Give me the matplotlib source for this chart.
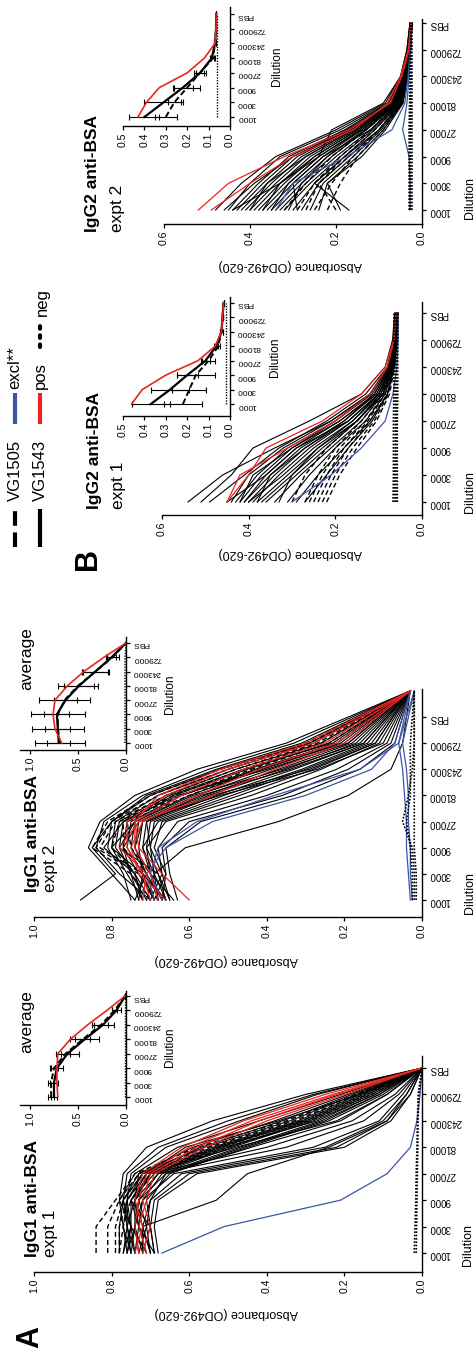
import matplotlib
matplotlib.use("Agg")
import matplotlib.pyplot as plt
from matplotlib.ticker import FormatStrFormatter

plt.rcParams['font.family'] = ['Liberation Sans', 'DejaVu Sans']

W, H = 474, 1357
RED = "#e8251f"
BLUE = "#3a56a6"

dilutions = ["1000", "3000", "9000", "27000", "81000", "243000", "729000", "PBS"]
pos = [0, 1, 2, 3, 4, 5, 6, 7]
pos_a2 = [0, 1, 2, 3, 4, 5, 6, 8]   # expt 2 IgG1: PBS point drawn one step further

# ---------------- IgG1 expt 1 ----------------
a1_vg1505 = [
    [0.84, 0.84, 0.79, 0.74, 0.58, 0.35, 0.17, 0.0],
    [0.81, 0.81, 0.78, 0.73, 0.55, 0.33, 0.16, 0.0],
    [0.79, 0.79, 0.77, 0.72, 0.53, 0.31, 0.15, 0.0],
    [0.78, 0.78, 0.76, 0.71, 0.52, 0.30, 0.14, 0.0],
    [0.78, 0.77, 0.75, 0.70, 0.50, 0.29, 0.13, 0.0],
]
a1_vg1543 = [
    [0.76, 0.77, 0.78, 0.77, 0.71, 0.54, 0.30, 0.0],
    [0.75, 0.76, 0.77, 0.76, 0.68, 0.50, 0.28, 0.0],
    [0.74, 0.75, 0.76, 0.75, 0.66, 0.47, 0.27, 0.0],
    [0.78, 0.78, 0.77, 0.73, 0.56, 0.34, 0.17, 0.0],
    [0.77, 0.76, 0.76, 0.72, 0.54, 0.32, 0.16, 0.0],
    [0.76, 0.75, 0.75, 0.71, 0.53, 0.31, 0.15, 0.0],
    [0.75, 0.74, 0.74, 0.70, 0.52, 0.30, 0.14, 0.0],
    [0.74, 0.73, 0.75, 0.69, 0.50, 0.29, 0.13, 0.0],
    [0.73, 0.74, 0.73, 0.68, 0.49, 0.28, 0.12, 0.0],
    [0.72, 0.72, 0.74, 0.70, 0.51, 0.27, 0.12, 0.0],
    [0.71, 0.73, 0.72, 0.67, 0.47, 0.26, 0.11, 0.0],
    [0.70, 0.71, 0.73, 0.66, 0.46, 0.25, 0.11, 0.0],
    [0.69, 0.70, 0.71, 0.65, 0.45, 0.24, 0.10, 0.0],
    [0.75, 0.77, 0.76, 0.71, 0.48, 0.22, 0.09, 0.0],
    [0.73, 0.71, 0.70, 0.66, 0.44, 0.21, 0.09, 0.0],
    [0.72, 0.74, 0.72, 0.64, 0.28, 0.11, 0.05, 0.0],
    [0.70, 0.72, 0.70, 0.62, 0.25, 0.10, 0.04, 0.0],
    [0.69, 0.70, 0.69, 0.60, 0.22, 0.09, 0.04, 0.0],
    [0.68, 0.69, 0.68, 0.58, 0.20, 0.08, 0.03, 0.0],
    [0.70, 0.72, 0.53, 0.45, 0.24, 0.09, 0.03, 0.0],
    [0.77, 0.75, 0.78, 0.74, 0.63, 0.42, 0.21, 0.0],
    [0.74, 0.76, 0.74, 0.73, 0.59, 0.38, 0.19, 0.0],
    [0.71, 0.75, 0.77, 0.72, 0.57, 0.36, 0.18, 0.0],
    [0.72, 0.70, 0.75, 0.70, 0.40, 0.18, 0.07, 0.0],
    [0.76, 0.74, 0.73, 0.71, 0.61, 0.37, 0.16, 0.0],
    [0.69, 0.73, 0.74, 0.68, 0.35, 0.15, 0.06, 0.0],
]
a1_pos = [
    [0.74, 0.72, 0.74, 0.72, 0.62, 0.46, 0.25, 0.0],
    [0.73, 0.74, 0.73, 0.71, 0.60, 0.44, 0.23, 0.0],
    [0.72, 0.70, 0.72, 0.70, 0.58, 0.42, 0.22, 0.0],
    [0.71, 0.73, 0.71, 0.69, 0.56, 0.40, 0.20, 0.0],
]
a1_excl = [
    [0.67, 0.51, 0.21, 0.09, 0.03, 0.013, 0.005, 0.0],
]
a1_neg = [
    [0.020, 0.018, 0.016, 0.015, 0.013, 0.012, 0.010, 0.0],
    [0.015, 0.014, 0.013, 0.012, 0.011, 0.010, 0.008, 0.0],
]
a1_avg_pos = [0.71, 0.72, 0.72, 0.71, 0.58, 0.40, 0.20, 0.01]
a1_avg_vg1543 = [0.75, 0.75, 0.72, 0.61, 0.43, 0.24, 0.10, 0.01]
a1_err_vg1543 = [0.03, 0.04, 0.06, 0.12, 0.15, 0.11, 0.05, 0.0]
a1_avg_vg1505 = [0.78, 0.78, 0.75, 0.63, 0.45, 0.26, 0.12, 0.01]
a1_err_vg1505 = [0.03, 0.03, 0.04, 0.05, 0.08, 0.07, 0.03, 0.0]
a1_avg_neg = [0.01, 0.01, 0.01, 0.01, 0.01, 0.01, 0.01, 0.01]

# ---------------- IgG1 expt 2 ----------------
a2_vg1505 = [
    [0.70, 0.75, 0.85, 0.81, 0.70, 0.52, 0.30, 0.03],
    [0.68, 0.73, 0.84, 0.80, 0.68, 0.50, 0.29, 0.03],
    [0.66, 0.72, 0.83, 0.79, 0.66, 0.48, 0.27, 0.03],
    [0.72, 0.74, 0.80, 0.78, 0.64, 0.46, 0.26, 0.03],
    [0.69, 0.71, 0.77, 0.77, 0.62, 0.44, 0.24, 0.03],
    [0.67, 0.70, 0.75, 0.76, 0.60, 0.42, 0.22, 0.03],
]
a2_vg1543 = [
    [0.74, 0.80, 0.86, 0.83, 0.74, 0.58, 0.35, 0.03],
    [0.70, 0.78, 0.84, 0.82, 0.72, 0.55, 0.33, 0.03],
    [0.88, 0.79, 0.85, 0.80, 0.71, 0.53, 0.31, 0.03],
    [0.72, 0.76, 0.80, 0.79, 0.68, 0.50, 0.28, 0.03],
    [0.70, 0.74, 0.79, 0.78, 0.66, 0.48, 0.26, 0.03],
    [0.69, 0.73, 0.77, 0.76, 0.64, 0.45, 0.24, 0.03],
    [0.73, 0.72, 0.76, 0.75, 0.62, 0.43, 0.22, 0.03],
    [0.67, 0.71, 0.75, 0.74, 0.60, 0.41, 0.21, 0.03],
    [0.68, 0.70, 0.74, 0.73, 0.58, 0.39, 0.19, 0.03],
    [0.66, 0.72, 0.73, 0.72, 0.56, 0.37, 0.18, 0.03],
    [0.71, 0.69, 0.72, 0.71, 0.55, 0.35, 0.17, 0.03],
    [0.65, 0.68, 0.71, 0.70, 0.53, 0.33, 0.15, 0.03],
    [0.70, 0.67, 0.70, 0.69, 0.51, 0.31, 0.14, 0.03],
    [0.64, 0.70, 0.72, 0.68, 0.49, 0.30, 0.13, 0.03],
    [0.69, 0.66, 0.69, 0.67, 0.47, 0.28, 0.12, 0.03],
    [0.66, 0.68, 0.78, 0.74, 0.62, 0.42, 0.20, 0.03],
    [0.72, 0.74, 0.82, 0.77, 0.65, 0.46, 0.23, 0.03],
    [0.68, 0.70, 0.71, 0.66, 0.44, 0.26, 0.11, 0.03],
    [0.65, 0.67, 0.68, 0.63, 0.40, 0.22, 0.09, 0.03],
    [0.67, 0.66, 0.67, 0.60, 0.36, 0.19, 0.08, 0.03],
    [0.63, 0.65, 0.66, 0.57, 0.33, 0.16, 0.07, 0.03],
    [0.68, 0.69, 0.61, 0.37, 0.19, 0.08, 0.05, 0.03],
    [0.75, 0.77, 0.81, 0.80, 0.70, 0.52, 0.29, 0.03],
    [0.71, 0.75, 0.78, 0.77, 0.63, 0.40, 0.19, 0.03],
    [0.69, 0.72, 0.80, 0.74, 0.59, 0.36, 0.16, 0.03],
    [0.74, 0.71, 0.74, 0.72, 0.57, 0.34, 0.15, 0.03],
    [0.66, 0.69, 0.70, 0.71, 0.54, 0.29, 0.12, 0.03],
    [0.73, 0.75, 0.77, 0.73, 0.52, 0.27, 0.10, 0.03],
]
a2_pos = [
    [0.60, 0.67, 0.73, 0.74, 0.68, 0.52, 0.30, 0.03],
    [0.70, 0.72, 0.76, 0.76, 0.66, 0.50, 0.28, 0.03],
    [0.68, 0.70, 0.74, 0.74, 0.62, 0.46, 0.25, 0.03],
    [0.66, 0.73, 0.75, 0.72, 0.58, 0.42, 0.22, 0.03],
    [0.72, 0.71, 0.78, 0.73, 0.54, 0.38, 0.20, 0.03],
]
a2_excl = [
    [0.69, 0.71, 0.66, 0.54, 0.30, 0.13, 0.07, 0.03],
    [0.67, 0.70, 0.68, 0.58, 0.38, 0.16, 0.06, 0.03],
    [0.030, 0.035, 0.040, 0.040, 0.045, 0.050, 0.060, 0.02],
    [0.025, 0.030, 0.030, 0.035, 0.035, 0.040, 0.050, 0.02],
]
a2_neg = [
    [0.025, 0.025, 0.030, 0.040, 0.030, 0.030, 0.030, 0.02],
    [0.020, 0.020, 0.025, 0.050, 0.035, 0.025, 0.020, 0.02],
    [0.015, 0.015, 0.020, 0.020, 0.020, 0.020, 0.020, 0.02],
]
a2_avg_pos = [0.67, 0.74, 0.76, 0.74, 0.61, 0.44, 0.23, 0.0]
a2_avg_vg1543 = [0.70, 0.71, 0.72, 0.63, 0.49, 0.32, 0.15, 0.0]
a2_err_vg1543 = [0.12, 0.13, 0.13, 0.12, 0.16, 0.14, 0.05, 0.0]
a2_avg_vg1505 = [0.69, 0.71, 0.71, 0.64, 0.50, 0.32, 0.14, 0.0]
a2_err_vg1505 = [0.26, 0.27, 0.28, 0.27, 0.21, 0.13, 0.07, 0.0]
a2_avg_neg = [0.01, 0.01, 0.01, 0.01, 0.01, 0.01, 0.01, 0.0]

# ---------------- IgG2 expt 1 ----------------
b1_vg1505 = [
    [0.30, 0.27, 0.22, 0.15, 0.095, 0.069, 0.060, 0.058],
    [0.27, 0.24, 0.20, 0.14, 0.090, 0.068, 0.059, 0.058],
    [0.26, 0.23, 0.19, 0.13, 0.088, 0.067, 0.059, 0.057],
    [0.25, 0.22, 0.18, 0.125, 0.085, 0.066, 0.058, 0.057],
    [0.24, 0.21, 0.17, 0.12, 0.080, 0.065, 0.058, 0.056],
    [0.23, 0.20, 0.16, 0.11, 0.078, 0.064, 0.057, 0.056],
    [0.22, 0.19, 0.15, 0.105, 0.075, 0.063, 0.057, 0.055],
]
b1_vg1543 = [
    [0.54, 0.46, 0.34, 0.21, 0.12, 0.080, 0.065, 0.062],
    [0.51, 0.44, 0.39, 0.26, 0.14, 0.085, 0.068, 0.063],
    [0.49, 0.41, 0.33, 0.22, 0.13, 0.080, 0.066, 0.062],
    [0.44, 0.40, 0.32, 0.21, 0.12, 0.078, 0.064, 0.060],
    [0.43, 0.38, 0.31, 0.20, 0.115, 0.076, 0.063, 0.060],
    [0.42, 0.37, 0.30, 0.19, 0.11, 0.075, 0.062, 0.060],
    [0.41, 0.35, 0.28, 0.18, 0.11, 0.074, 0.062, 0.059],
    [0.40, 0.34, 0.27, 0.18, 0.105, 0.072, 0.061, 0.059],
    [0.39, 0.33, 0.26, 0.17, 0.10, 0.071, 0.061, 0.058],
    [0.40, 0.32, 0.25, 0.16, 0.10, 0.070, 0.060, 0.058],
    [0.38, 0.31, 0.24, 0.16, 0.095, 0.070, 0.060, 0.057],
    [0.37, 0.30, 0.23, 0.15, 0.095, 0.069, 0.060, 0.057],
    [0.36, 0.29, 0.22, 0.15, 0.090, 0.068, 0.059, 0.057],
    [0.34, 0.28, 0.21, 0.14, 0.090, 0.067, 0.059, 0.056],
    [0.31, 0.26, 0.20, 0.13, 0.085, 0.066, 0.058, 0.056],
    [0.29, 0.24, 0.18, 0.12, 0.080, 0.065, 0.058, 0.056],
    [0.27, 0.22, 0.17, 0.115, 0.080, 0.064, 0.057, 0.055],
    [0.45, 0.36, 0.29, 0.19, 0.105, 0.073, 0.062, 0.059],
    [0.42, 0.39, 0.30, 0.20, 0.12, 0.078, 0.064, 0.060],
    [0.41, 0.36, 0.29, 0.17, 0.10, 0.071, 0.061, 0.058],
    [0.38, 0.35, 0.27, 0.17, 0.10, 0.070, 0.060, 0.058],
    [0.33, 0.30, 0.24, 0.15, 0.09, 0.068, 0.059, 0.057],
]
b1_pos = [
    [0.45, 0.40, 0.36, 0.23, 0.14, 0.085, 0.065, 0.060],
    [0.45, 0.42, 0.31, 0.20, 0.12, 0.080, 0.064, 0.060],
]
b1_excl = [
    [0.30, 0.21, 0.14, 0.085, 0.067, 0.058, 0.055, 0.055],
]
b1_neg = [
    [0.067, 0.066, 0.066, 0.066, 0.065, 0.065, 0.065, 0.065],
    [0.063, 0.063, 0.062, 0.062, 0.062, 0.062, 0.062, 0.062],
    [0.060, 0.060, 0.060, 0.059, 0.059, 0.059, 0.059, 0.059],
    [0.057, 0.057, 0.057, 0.057, 0.056, 0.056, 0.056, 0.056],
]
b1_avg_pos = [0.46, 0.41, 0.30, 0.15, 0.07, 0.04, 0.035, 0.03]
b1_avg_vg1543 = [0.37, 0.28, 0.20, 0.115, 0.065, 0.04, 0.035, 0.03]
b1_err_vg1543 = [0.09, 0.09, 0.05, 0.02, 0.01, 0.005, 0.0, 0.0]
b1_avg_vg1505 = [0.22, 0.19, 0.16, 0.10, 0.055, 0.04, 0.035, 0.03]
b1_err_vg1505 = [0.09, 0.08, 0.09, 0.03, 0.01, 0.005, 0.0, 0.0]
b1_avg_neg = [0.02, 0.02, 0.02, 0.02, 0.02, 0.02, 0.02, 0.02]

# ---------------- IgG2 expt 2 ----------------
b2_vg1505 = [
    [0.32, 0.27, 0.21, 0.13, 0.060, 0.040, 0.030, 0.025],
    [0.29, 0.25, 0.19, 0.12, 0.055, 0.038, 0.029, 0.025],
    [0.27, 0.24, 0.18, 0.11, 0.052, 0.037, 0.029, 0.024],
    [0.25, 0.21, 0.16, 0.10, 0.050, 0.036, 0.028, 0.024],
    [0.22, 0.19, 0.15, 0.09, 0.047, 0.035, 0.028, 0.024],
    [0.20, 0.24, 0.17, 0.10, 0.050, 0.035, 0.028, 0.024],
]
b2_vg1543 = [
    [0.48, 0.42, 0.34, 0.20, 0.085, 0.050, 0.035, 0.028],
    [0.45, 0.40, 0.33, 0.19, 0.080, 0.048, 0.034, 0.028],
    [0.44, 0.38, 0.31, 0.18, 0.078, 0.047, 0.033, 0.027],
    [0.43, 0.37, 0.30, 0.175, 0.075, 0.046, 0.033, 0.027],
    [0.42, 0.36, 0.29, 0.17, 0.073, 0.045, 0.032, 0.027],
    [0.41, 0.35, 0.28, 0.165, 0.070, 0.044, 0.032, 0.026],
    [0.40, 0.34, 0.27, 0.16, 0.068, 0.043, 0.031, 0.026],
    [0.39, 0.33, 0.26, 0.155, 0.066, 0.042, 0.031, 0.026],
    [0.38, 0.32, 0.25, 0.15, 0.064, 0.041, 0.030, 0.025],
    [0.37, 0.31, 0.24, 0.145, 0.062, 0.040, 0.030, 0.025],
    [0.36, 0.30, 0.23, 0.14, 0.060, 0.040, 0.030, 0.025],
    [0.35, 0.29, 0.22, 0.135, 0.058, 0.039, 0.029, 0.025],
    [0.34, 0.28, 0.21, 0.13, 0.056, 0.038, 0.029, 0.024],
    [0.33, 0.27, 0.20, 0.12, 0.054, 0.037, 0.028, 0.024],
    [0.32, 0.26, 0.19, 0.115, 0.052, 0.036, 0.028, 0.024],
    [0.30, 0.25, 0.18, 0.11, 0.050, 0.036, 0.028, 0.024],
    [0.28, 0.24, 0.17, 0.10, 0.048, 0.035, 0.027, 0.023],
    [0.26, 0.23, 0.16, 0.095, 0.046, 0.034, 0.027, 0.023],
    [0.24, 0.22, 0.15, 0.09, 0.045, 0.034, 0.027, 0.023],
    [0.17, 0.25, 0.18, 0.10, 0.050, 0.035, 0.028, 0.024],
    [0.19, 0.22, 0.14, 0.085, 0.044, 0.033, 0.026, 0.023],
    [0.44, 0.33, 0.24, 0.21, 0.090, 0.050, 0.035, 0.028],
    [0.46, 0.39, 0.30, 0.17, 0.070, 0.045, 0.033, 0.027],
    [0.40, 0.36, 0.27, 0.16, 0.066, 0.043, 0.031, 0.026],
    [0.37, 0.33, 0.25, 0.15, 0.062, 0.041, 0.030, 0.025],
    [0.35, 0.31, 0.24, 0.14, 0.060, 0.040, 0.030, 0.025],
    [0.31, 0.28, 0.22, 0.13, 0.057, 0.038, 0.029, 0.024],
    [0.29, 0.30, 0.23, 0.12, 0.055, 0.037, 0.028, 0.024],
]
b2_pos = [
    [0.52, 0.45, 0.32, 0.17, 0.074, 0.047, 0.030, 0.025],
    [0.49, 0.40, 0.30, 0.16, 0.080, 0.050, 0.032, 0.026],
]
b2_excl = [
    [0.34, 0.30, 0.175, 0.07, 0.040, 0.032, 0.028, 0.025],
    [0.028, 0.028, 0.030, 0.045, 0.035, 0.030, 0.027, 0.025],
]
b2_neg = [
    [0.030, 0.030, 0.030, 0.030, 0.029, 0.028, 0.027, 0.026],
    [0.028, 0.028, 0.028, 0.028, 0.027, 0.027, 0.026, 0.025],
    [0.026, 0.026, 0.026, 0.026, 0.026, 0.025, 0.025, 0.025],
    [0.024, 0.024, 0.024, 0.024, 0.024, 0.024, 0.024, 0.024],
]
b2_avg_pos = [0.43, 0.39, 0.33, 0.20, 0.12, 0.07, 0.065, 0.065]
b2_avg_vg1543 = [0.40, 0.31, 0.22, 0.14, 0.085, 0.07, 0.065, 0.065]
b2_err_vg1543 = [0.07, 0.09, 0.045, 0.03, 0.01, 0.005, 0.0, 0.0]
b2_avg_vg1505 = [0.30, 0.26, 0.20, 0.14, 0.08, 0.07, 0.065, 0.065]
b2_err_vg1505 = [0.05, 0.03, 0.06, 0.02, 0.01, 0.005, 0.0, 0.0]
b2_avg_neg = [0.06, 0.06, 0.06, 0.06, 0.06, 0.06, 0.06, 0.06]


fig = plt.figure(figsize=(W / 100, H / 100), dpi=100)


def px_axes(x_hi, x_zero, y_bot, y_top, p0, p7, xmax, xticks, inset=False):
    # axes placed in pixel coords of the (rotated) page; x = absorbance, y = dilution
    ax = fig.add_axes([x_hi / W, 1 - y_bot / H, (x_zero - x_hi) / W, (y_bot - y_top) / H])
    ax.set_xlim(xmax, 0)
    d = (p0 - p7) / 7
    ax.set_ylim(-(y_bot - p0) / d, 7 + (p7 - y_top) / d)
    ax.patch.set_visible(False)
    for s in ["left", "top"]:
        ax.spines[s].set_visible(False)
    for s in ["bottom", "right"]:
        ax.spines[s].set_linewidth(1.0)
    ax.set_xticks(xticks)
    ax.xaxis.set_major_formatter(FormatStrFormatter("%.1f"))
    ax.set_yticks(pos)
    ax.set_yticklabels(dilutions)
    ax.yaxis.tick_right()
    ax.tick_params(axis="y", labelrotation=180, labelsize=6 if inset else 7,
                   length=3, width=0.9, pad=2)
    ax.tick_params(axis="x", labelrotation=90, labelsize=7.5, length=3, width=0.9, pad=2)
    return ax


def draw_groups(ax, x, dashed, solid, excl, pos_lines, neg):
    for v in dashed:
        ax.plot(v, x, color="black", lw=1.0, ls=(0, (3.6, 2.2)), clip_on=False)
    for v in solid:
        ax.plot(v, x, color="black", lw=0.8, clip_on=False)
    for v in excl:
        ax.plot(v, x, color=BLUE, lw=0.9, clip_on=False)
    for v in pos_lines:
        ax.plot(v, x, color=RED, lw=0.9, clip_on=False)
    for v in neg:
        ax.plot(v, x, color="black", lw=1.2, ls=(0, (1, 1)), clip_on=False)


def draw_avg(ax, p, s, se, d, de, n):
    ax.plot(n, pos, color="black", lw=1.0, ls=(0, (1, 1)), clip_on=False)
    ax.errorbar(s, pos, xerr=se, fmt="none", ecolor="black", elinewidth=0.8, capsize=2, capthick=0.8)
    ax.errorbar(d, pos, xerr=de, fmt="none", ecolor="black", elinewidth=0.8, capsize=2, capthick=0.8)
    ax.plot(d, pos, color="black", lw=1.4, ls=(0, (3, 1.6)), clip_on=False)
    ax.plot(s, pos, color="black", lw=1.6, clip_on=False)
    ax.plot(p, pos, color=RED, lw=1.2, clip_on=False)


A_ticks = [0.0, 0.2, 0.4, 0.6, 0.8, 1.0]
B_ticks = [0.0, 0.2, 0.4, 0.6]

ax_a1 = px_axes(34, 422, 1272, 1056, 1253, 1068, 1.0, A_ticks)
draw_groups(ax_a1, pos, a1_vg1505, a1_vg1543, a1_excl, a1_pos, a1_neg)

ax_a2 = px_axes(34, 422, 917, 689, 900, 717, 1.0, A_ticks)
draw_groups(ax_a2, pos_a2, a2_vg1505, a2_vg1543, a2_excl, a2_pos, a2_neg)

ax_b1 = px_axes(162, 422, 515, 302, 502, 313, 0.6, B_ticks)
draw_groups(ax_b1, pos, b1_vg1505, b1_vg1543, b1_excl, b1_pos, b1_neg)

ax_b2 = px_axes(164, 422, 224, 19, 210, 23, 0.6, B_ticks)
draw_groups(ax_b2, pos, b2_vg1505, b2_vg1543, b2_excl, b2_pos, b2_neg)

in_a1 = px_axes(20.4, 126, 1105, 991, 1097, 996, 1.1, [0.0, 0.5, 1.0], inset=True)
draw_avg(in_a1, a1_avg_pos, a1_avg_vg1543, a1_err_vg1543, a1_avg_vg1505, a1_err_vg1505, a1_avg_neg)

in_a2 = px_axes(20.4, 126, 750, 637, 743, 643, 1.1, [0.0, 0.5, 1.0], inset=True)
draw_avg(in_a2, a2_avg_pos, a2_avg_vg1543, a2_err_vg1543, a2_avg_vg1505, a2_err_vg1505, a2_avg_neg)

in_b1 = px_axes(123, 230, 416, 297, 404, 303, 0.5, [0.0, 0.1, 0.2, 0.3, 0.4, 0.5], inset=True)
draw_avg(in_b1, b1_avg_pos, b1_avg_vg1543, b1_err_vg1543, b1_avg_vg1505, b1_err_vg1505, b1_avg_neg)

in_b2 = px_axes(123, 230, 126, 7, 117, 14, 0.5, [0.0, 0.1, 0.2, 0.3, 0.4, 0.5], inset=True)
draw_avg(in_b2, b2_avg_pos, b2_avg_vg1543, b2_err_vg1543, b2_avg_vg1505, b2_err_vg1505, b2_avg_neg)

# overlay for free text and legend, in page pixels
lax = fig.add_axes([0, 0, 1, 1])
lax.set_xlim(0, W)
lax.set_ylim(H, 0)
lax.axis("off")

# titles
for x1, x2, y0, t1, t2 in [(33, 51, 1257, "IgG1 anti-BSA", "expt 1"),
                           (33, 51, 892, "IgG1 anti-BSA", "expt 2"),
                           (95, 119, 509, "IgG2 anti-BSA", "expt 1"),
                           (93, 118, 232, "IgG2 anti-BSA", "expt 2")]:
    lax.text(x1, y0, t1, rotation=90, ha="center", va="bottom", fontsize=12.5, fontweight="bold")
    lax.text(x2, y0, t2, rotation=90, ha="center", va="bottom", fontsize=12.5)

lax.text(27, 1053, "average", rotation=90, ha="center", va="bottom", fontsize=12.5)
lax.text(27, 690, "average", rotation=90, ha="center", va="bottom", fontsize=12.5)

# axis titles
for x, y in [(226, 1313), (226, 960), (290, 553), (290, 265)]:
    lax.text(x, y, "Absorbance (OD492-620)", rotation=180, ha="center", va="center", fontsize=9)
for x, y in [(468, 1245), (470, 893), (470, 492), (470, 198)]:
    lax.text(x, y, "Dilution", rotation=90, ha="center", va="center", fontsize=9)
for x, y in [(170, 1047), (170, 694), (275, 357), (277, 66)]:
    lax.text(x, y, "Dilution", rotation=90, ha="center", va="center", fontsize=8.5)

# panel letters
lax.text(30, 1337, "A", rotation=90, ha="center", va="center", fontsize=22, fontweight="bold")
lax.text(88, 559, "B", rotation=90, ha="center", va="center", fontsize=22, fontweight="bold")

# legend
lax.plot([15, 15], [547, 509], color="black", lw=3, ls=(0, (3.5, 1.6)))
lax.text(15, 501, "VG1505", rotation=90, ha="center", va="bottom", fontsize=12)
lax.plot([15, 15], [424, 393], color=BLUE, lw=3, solid_capstyle="butt")
lax.text(15, 389, "excl**", rotation=90, ha="center", va="bottom", fontsize=12)
lax.plot([40, 40], [547, 509], color="black", lw=3, solid_capstyle="butt")
lax.text(40, 501, "VG1543", rotation=90, ha="center", va="bottom", fontsize=12)
lax.plot([40, 40], [424, 393], color=RED, lw=3, solid_capstyle="butt")
lax.text(40, 389, "pos", rotation=90, ha="center", va="bottom", fontsize=12)
lax.plot([40, 40], [347, 323], color="black", lw=3, ls=(0, (0.6, 1.6)), dash_capstyle="round")
lax.text(42, 316, "neg", rotation=90, ha="center", va="bottom", fontsize=12)

fig.savefig("out.png", dpi=100)
